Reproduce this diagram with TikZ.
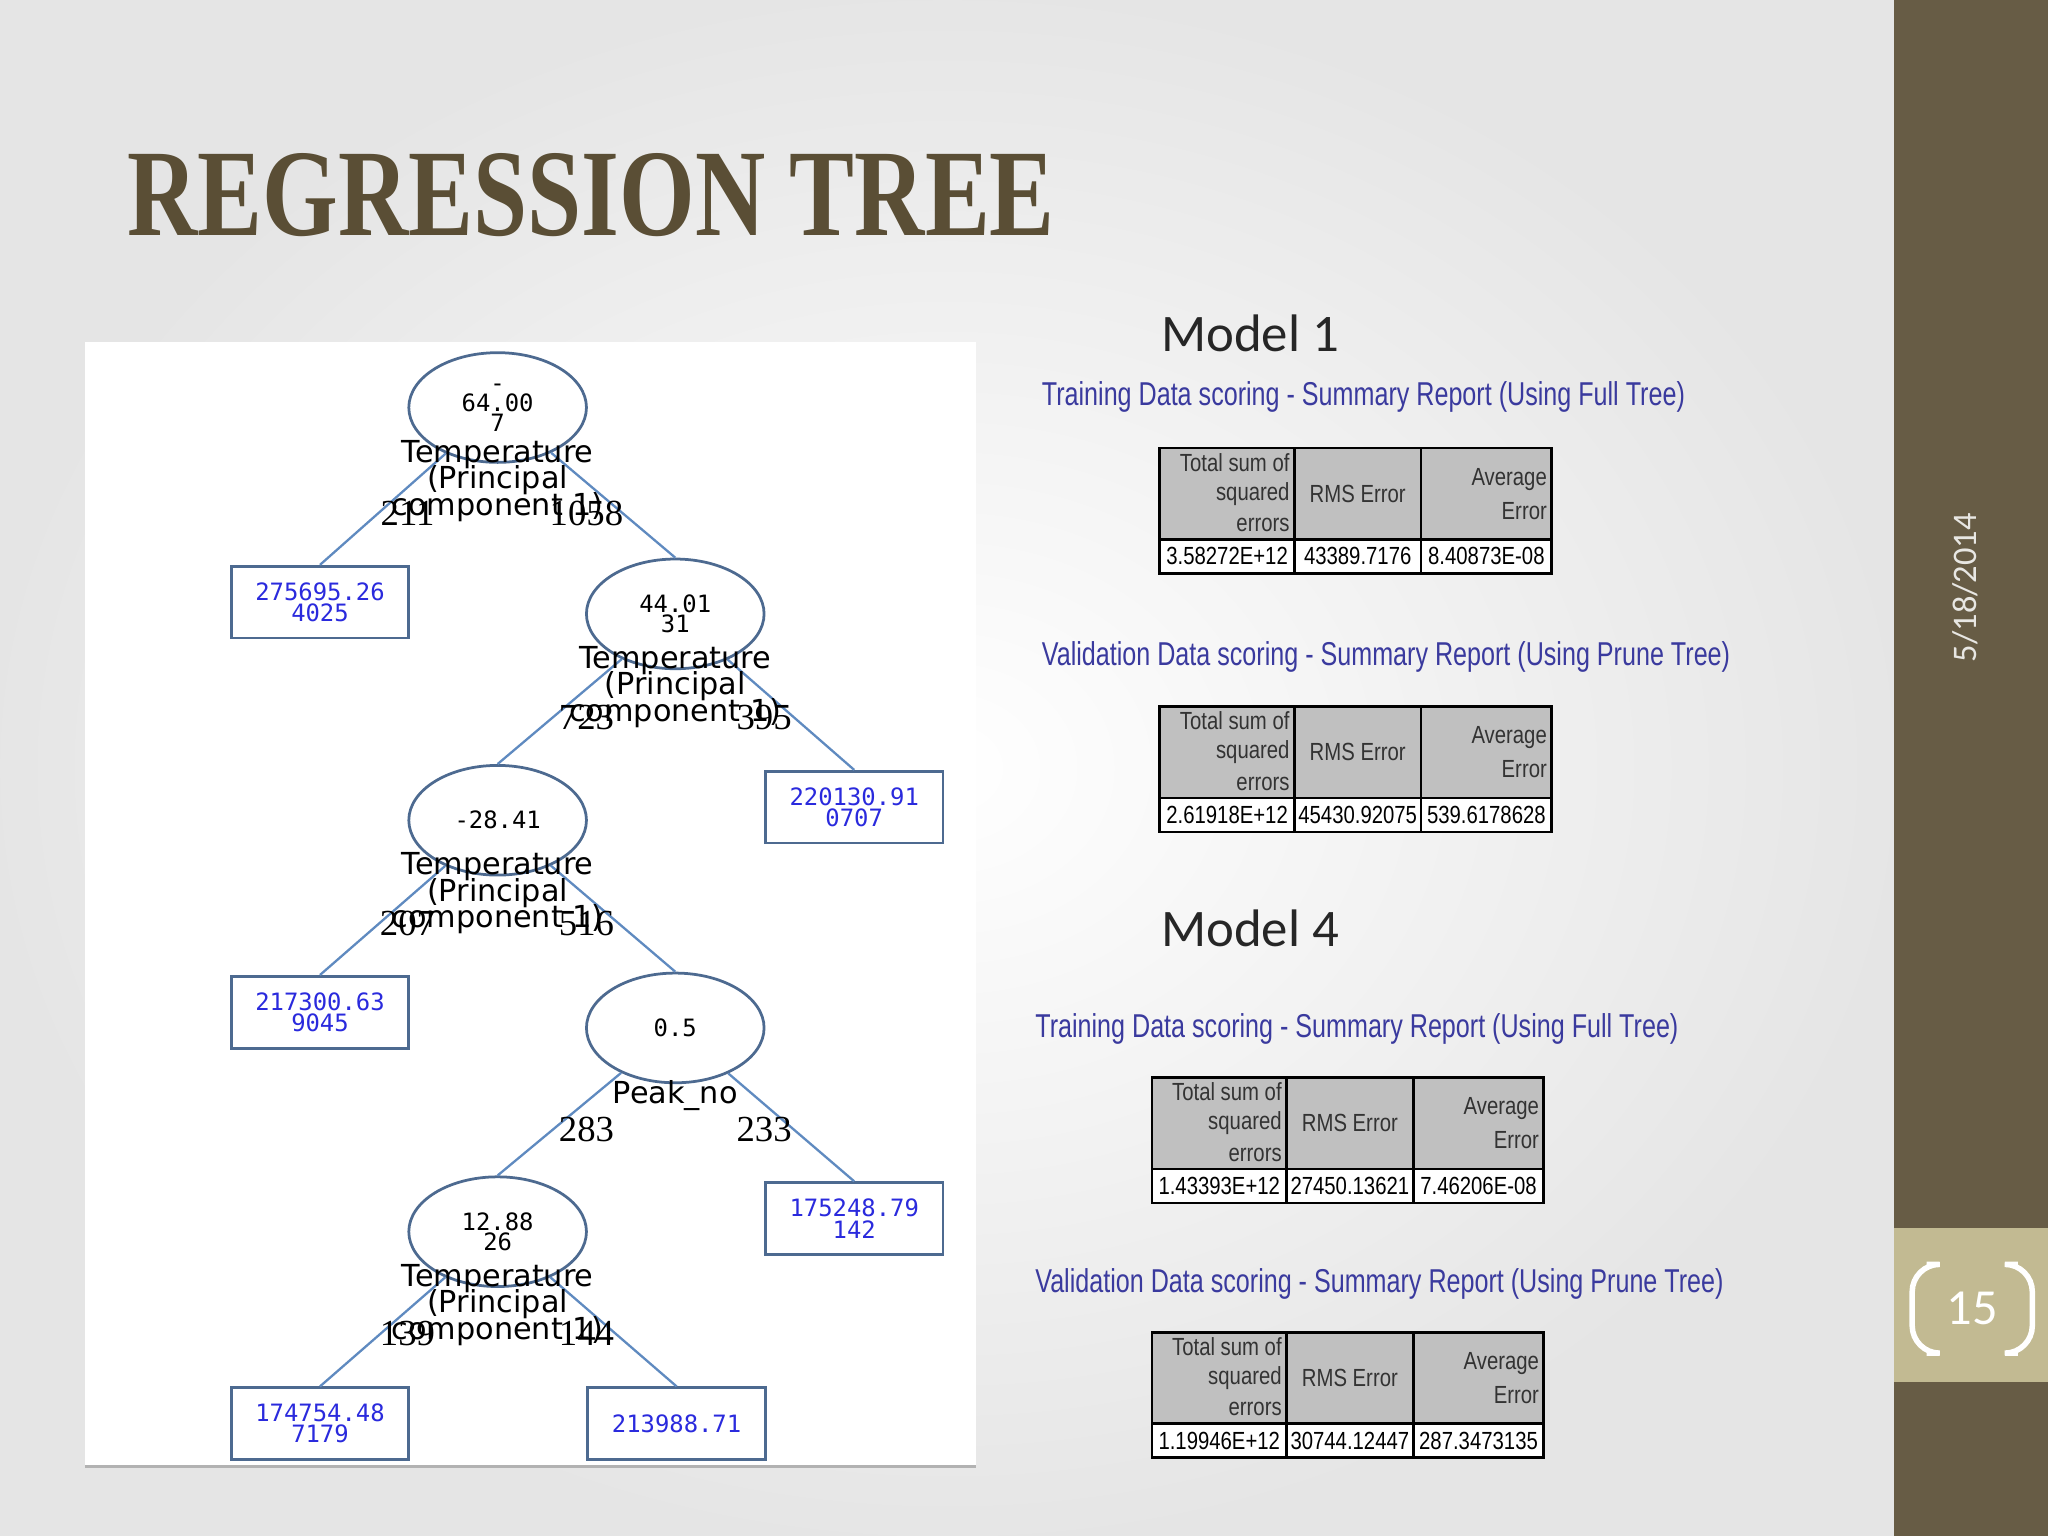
\documentclass[tikz,border=0pt]{standalone}
\usepackage{fontspec}
\setmainfont{Liberation Serif}
\newfontfamily\treefont{DejaVu Sans}
\newfontfamily\monofont{DejaVu Sans Mono}
\newfontfamily\calfont{Carlito}
\newfontfamily\arialfont{Liberation Sans}
\usetikzlibrary{shapes.geometric}
\definecolor{olive}{HTML}{675C45}
\definecolor{khaki}{HTML}{C2BA92}
\definecolor{titlec}{HTML}{5A4E35}
\definecolor{headblue}{HTML}{3A3A9E}
\definecolor{edgeblue}{HTML}{5F8AC0}
\definecolor{nodeline}{HTML}{4D6A90}
\definecolor{leafblue}{HTML}{2A2ADD}
\definecolor{cellgrey}{HTML}{C0C0C0}
\newcommand\nar[1]{\scalebox{0.76}[1]{#1}}
\newcommand\tnar[1]{\scalebox{0.82}[1]{#1}}
\newcommand\tempvar{Temperature\\[-1.6pt](Principal\\[-1.6pt]component 1)}
% summary table: x, y (top left), three values
\newcommand\sumtab[6]{%
  \node[hcell,minimum width=10.3mm] (#1a) at (#2+51.5,#3+35) {};
  \node[hcell,minimum width=9.7mm] (#1b) at (#2+151.5,#3+35) {};
  \node[hcell,minimum width=10mm] (#1c) at (#2+250,#3+35) {};
  \node[vcell,minimum width=10.3mm] (#1d) at (#2+51.5,#3+83) {\tnar{#4}};
  \node[vcell,minimum width=9.7mm] (#1e) at (#2+151.5,#3+83) {\tnar{#5}};
  \node[vcell,minimum width=10mm] (#1f) at (#2+250,#3+83) {\tnar{#6}};
  \node[celltxt,anchor=east] at (#2+100,#3+11) {\tnar{Total sum of}};
  \node[celltxt,anchor=east] at (#2+100,#3+35) {\tnar{squared}};
  \node[celltxt,anchor=east] at (#2+100,#3+59) {\tnar{errors}};
  \node[celltxt] at (#1b) {\tnar{RMS Error}};
  \node[celltxt,anchor=east] at (#2+297,#3+24) {\tnar{Average}};
  \node[celltxt,anchor=east] at (#2+297,#3+48) {\tnar{Error}};
}
\begin{document}
\begin{tikzpicture}[
x=0.1mm,y=-0.1mm,
edge/.style={draw=edgeblue,line width=0.5pt},
split/.style={ellipse,draw=nodeline,line width=0.6pt,minimum width=13.6mm,minimum height=8.4mm,inner sep=0pt,align=center,font=\monofont\fontsize{5.2}{4.3}\selectfont},
leaf/.style={draw=nodeline,line width=0.6pt,minimum width=13.6mm,minimum height=5.5mm,inner sep=0pt,align=center,text=leafblue,font=\monofont\fontsize{5.2}{4.6}\selectfont},
var/.style={align=center,inner sep=0pt,font=\treefont\fontsize{6.6}{5.7}\selectfont},
cnt/.style={inner sep=0pt,font=\fontsize{8}{8}\selectfont},
model/.style={font=\calfont\fontsize{11.5}{12}\selectfont,text=black!85},
head/.style={anchor=west,inner sep=0pt,text=headblue,font=\arialfont\fontsize{7.2}{8}\selectfont},
hcell/.style={draw=black,fill=cellgrey,minimum height=7mm,inner sep=0pt,line width=0.6pt},
vcell/.style={draw=black,fill=white,minimum height=2.6mm,inner sep=0pt,line width=0.6pt,font=\arialfont\fontsize{5.4}{6}\selectfont},
celltxt/.style={inner sep=0pt,text=black!80,font=\arialfont\fontsize{5.4}{6}\selectfont}
]
\useasboundingbox (0,0) rectangle (1568,1176);
\shade[inner color=white,outer color=black!10] (0,0) rectangle (1450,1176);
\fill[olive] (1450,0) rectangle (1568,1176);
\fill[khaki] (1450,940) rectangle (1568,1058);
\draw[white,line width=1.2pt,rounded corners=6pt] (1475,968) -- (1464,968) -- (1464,1036) -- (1475,1036);
\draw[white,line width=1.2pt,rounded corners=6pt] (1545,968) -- (1556,968) -- (1556,1036) -- (1545,1036);
\node[font=\calfont\fontsize{11}{12}\selectfont,text=white] (page) at (1510,1002) {15};
\node[rotate=90,font=\calfont\fontsize{7.5}{8}\selectfont,text=white!85!olive] (date) at (1505,450) {5/18/2014};

\node[anchor=base west,inner sep=0pt,text=titlec,font=\bfseries\fontsize{27}{30}\selectfont] (title) at (97,180) {\scalebox{0.785}[1]{REGRESSION TREE}};

% tree panel
\fill[white] (65,262) rectangle (747,1122);
\draw[black!30,line width=0.6pt] (65,1123) -- (747,1123);

\node[split] (s1) at (381,312) {-\\64.00\\7};
\node[split] (s2) at (517,470) {44.01\\31};
\node[split] (s3) at (381,628) {-28.41};
\node[split] (s4) at (517,787) {0.5};
\node[split] (s5) at (381,943) {12.88\\26};

\node[leaf] (l1) at (245,461) {275695.26\\4025};
\node[leaf] (l2) at (654,618) {220130.91\\0707};
\node[leaf] (l3) at (245,775) {217300.63\\9045};
\node[leaf] (l4) at (654,933) {175248.79\\142};
\node[leaf] (l5) at (245,1090) {174754.48\\7179};
\node[leaf] (l6) at (518,1090) {213988.71};

\path[edge] (s1) -- (l1.north);
\path[edge] (s1) -- (s2.north);
\path[edge] (s2) -- (s3.north);
\path[edge] (s2) -- (l2.north);
\path[edge] (s3) -- (l3.north);
\path[edge] (s3) -- (s4.north);
\path[edge] (s4) -- (s5.north);
\path[edge] (s4) -- (l4.north);
\path[edge] (s5) -- (l5.north);
\path[edge] (s5) -- (l6.north);

\node[var] (v1) at (381,368) {\tempvar};
\node[var] (v2) at (517,526) {\tempvar};
\node[var] (v3) at (381,684) {\tempvar};
\node[var] (v4) at (517,839) {Peak\_no};
\node[var] (v5) at (381,999) {\tempvar};

\node[cnt] (c1l) at (312,393) {211};
\node[cnt] (c1r) at (449,393) {1058};
\node[cnt] (c2l) at (449,549) {723};
\node[cnt] (c2r) at (585,549) {395};
\node[cnt] (c3l) at (312,707) {207};
\node[cnt] (c3r) at (449,707) {516};
\node[cnt] (c4l) at (449,865) {283};
\node[cnt] (c4r) at (585,865) {233};
\node[cnt] (c5l) at (312,1021) {139};
\node[cnt] (c5r) at (449,1021) {144};

% reports
\node[model] (m1) at (957,255) {Model 1};
\node[head] (h1) at (797,304) {\nar{Training Data scoring - Summary Report (Using Full Tree)}};
\sumtab{ta}{888}{343}{3.58272E+12}{43389.7176}{8.40873E-08}
\node[head] (h2) at (797,503) {\nar{Validation Data scoring - Summary Report (Using Prune Tree)}};
\sumtab{tb}{888}{541}{2.61918E+12}{45430.92075}{539.6178628}

\node[model] (m4) at (957,711) {Model 4};
\node[head] (h3) at (792,788) {\nar{Training Data scoring - Summary Report (Using Full Tree)}};
\sumtab{tc}{882}{825}{1.43393E+12}{27450.13621}{7.46206E-08}
\node[head] (h4) at (792,983) {\nar{Validation Data scoring - Summary Report (Using Prune Tree)}};
\sumtab{td}{882}{1020}{1.19946E+12}{30744.12447}{287.3473135}
\end{tikzpicture}
\end{document}
